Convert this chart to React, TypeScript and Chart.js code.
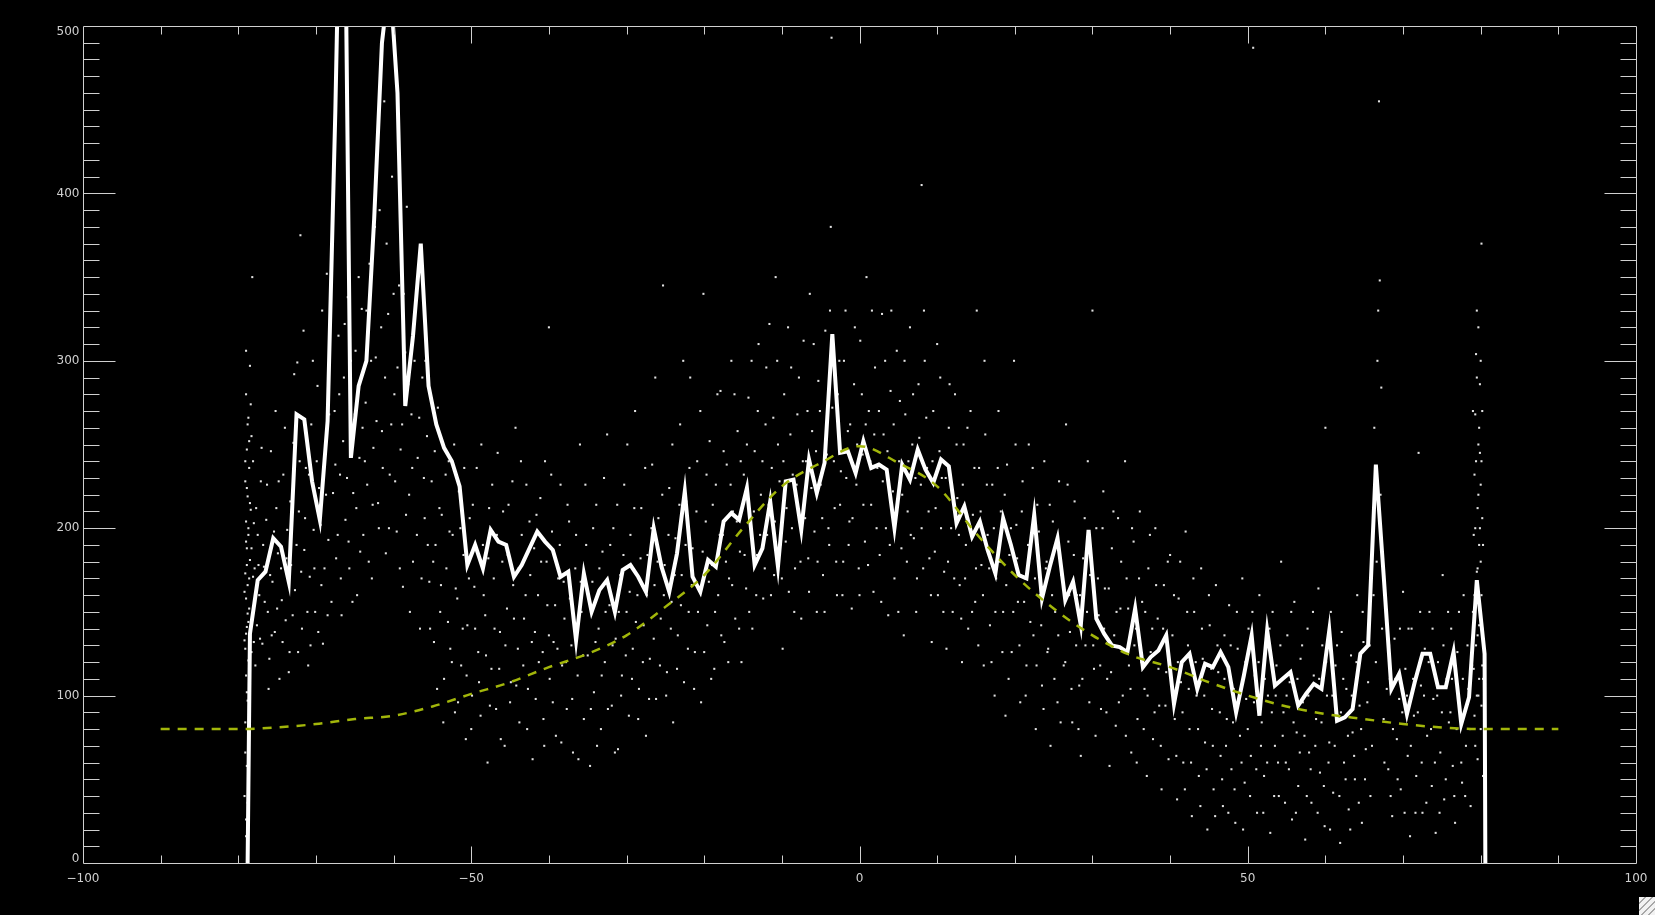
import React, { useEffect, useRef } from "react";
import { Chart, registerables } from "chart.js";

Chart.register(...registerables);

// Binned profile: one value per 1-degree bin, centres from -78.5 upward.
const FIRST_BIN_CENTRE = -78.5;
const BIN_WIDTH = 1;
const binCounts = [
  137, 169, 174, 194, 189, 168, 268, 265, 228, 205,
  264, 450, 680, 242, 285, 300, 385, 490, 530, 460,
  273, 315, 370, 285, 262, 248, 240, 225, 178, 190,
  176, 199, 192, 190, 171, 178, 188, 198, 192, 187,
  171, 174, 133, 173, 150, 163, 169, 150, 175, 178,
  171, 162, 200, 177, 162, 185, 222, 171, 162, 181,
  177, 204, 209, 205, 224, 178, 188, 216, 177, 228,
  229, 199, 241, 221, 239, 316, 245, 246, 233, 252,
  236, 238, 235, 200, 238, 229, 247, 235, 227, 241,
  237, 203, 213, 195, 204, 187, 173, 206, 190, 172,
  170, 208, 158, 177, 194, 157, 168, 142, 199, 146,
  137, 130, 129, 126, 152, 117, 123, 127, 136, 95,
  120, 125, 104, 119, 117, 126, 117, 90, 112, 136,
  88, 139, 106, 110, 114, 94, 101, 107, 104, 139,
  85, 87, 92, 125, 130, 238, 172, 104, 113, 89,
  108, 125, 125, 105, 105, 126, 83, 99, 169, 125,
];
// The profile drops to zero just outside the first and last bins.
const profileLeftEdge = -78.8;
const profileRightEdge = 80.6;

// Smooth model curve (dashed).
const modelX = [
  -90, -85, -80, -75, -70, -65, -60, -55, -50, -45, -40, -35, -30, -25, -20, -15, -10, -5, 0,
  5, 10, 15, 20, 25, 30, 35, 40, 45, 50, 55, 60, 65, 70, 75, 80, 85, 90,
];
const modelY = [
  80, 80, 80, 81, 83, 86, 88, 93.5, 101, 108, 117, 125, 136, 153, 172, 200, 225, 239, 249,
  239, 225, 197, 172, 152, 136, 124, 117, 108, 100, 93.5, 89, 86, 83, 81, 80, 80, 80,
];

// Individual samples (x y), first set.
const samplePairsA = `
-79.2 40, -79.0 26, -78.9 58, -79.1 84, -78.8 97, -79.0 112, -78.7 121, -79.2 133, -78.9 141, -78.6 152,
-79.0 158, -78.8 166, -79.1 173, -78.5 181, -78.9 188, -78.7 196, -79.0 204, -78.4 211, -78.8 219, -79.1 228,
-78.6 236, -78.9 247, -78.3 255, -78.7 266, -79.0 280, -78.5 297, -78.2 145, -78.1 171, -78.3 126, -78.0 203,
-78.2 350, -78.6 108,
-77.8 118, -77.6 142, -77.5 196, -77.3 160, -77.1 228, -76.9 131, -76.7 177, -76.4 205, -76.2 150, -76.0 122,
-75.8 246, -75.6 168, -75.3 138, -75.1 212, -74.9 185, -74.7 110, -74.4 157, -74.2 232, -73.9 145, -73.7 199,
-73.4 126, -73.2 178, -72.9 251, -72.7 163, -72.4 299, -72.2 210, -72.0 375, -71.8 140, -71.5 187, -71.3 236,
-71.0 118, -70.8 171, -70.6 262, -70.3 199, -70.1 150, -69.8 285, -69.6 224, -69.3 166, -69.1 131, -68.8 246,
-68.6 352, -68.4 193, -68.2 310, -68.0 156, -67.8 221,
-67.6 270, -67.4 182, -67.1 315, -66.9 232, -66.7 148, -66.4 290, -66.2 205, -65.9 338, -65.7 176, -65.4 258,
-65.2 221, -64.9 306, -64.7 160, -64.4 242, -64.1 331, -63.9 196, -63.6 275, -63.4 226, -63.1 358, -62.8 170,
-62.6 248, -62.3 302, -62.0 215, -61.8 390, -61.5 258, -61.2 455, -61.0 185, -60.7 328, -60.5 232, -60.2 410,
-59.9 280, -59.6 198, -59.3 345, -59.1 247, -58.8 165, -58.5 305, -58.3 392, -58.0 220, -57.7 268, -57.5 180,
-57.2 335, -56.9 242, -56.6 140, -56.3 290, -56.0 206, -55.7 255, -55.4 168,
-55.1 228, -54.8 132, -54.6 190, -54.3 272, -54.0 150, -53.8 208, -53.5 110, -53.2 176, -52.9 240, -52.7 128,
-52.4 196, -52.1 90, -51.8 158, -51.6 222, -51.3 118, -51.0 184, -50.7 74, -50.5 142, -50.2 206, -49.9 100,
-49.6 165, -49.3 236, -49.1 126, -48.8 88, -48.5 190, -48.2 148, -47.9 60, -47.7 212, -47.4 116, -47.1 170,
-46.8 92, -46.6 245, -46.3 138, -46.0 180, -45.7 70, -45.4 152, -45.2 214, -44.9 108, -44.6 166, -44.3 260,
-44.0 128, -43.8 84, -43.5 196, -43.2 146, -42.9 226, -42.7 104, -42.4 172, -42.1 62, -41.8 138, -41.6 208,
-41.3 120, -41.0 180, -40.7 86, -40.5 240, -40.2 154, -40.0 320, -39.9 110, -39.6 198, -39.4 132, -39.1 76,
-38.8 170, -38.5 226, -38.3 118, -38.0 146, -37.7 92, -37.4 204, -37.1 130, -36.9 66, -36.6 176, -36.3 112,
-36.0 250, -35.8 150, -35.5 86, -35.2 190,
-35.0 124, -34.7 58, -34.4 168, -34.2 102, -33.9 214, -33.6 140, -33.3 80, -33.1 186, -32.8 120, -32.5 256,
-32.2 154, -31.9 94, -31.7 200, -31.4 134, -31.1 68, -30.8 172, -30.6 112, -30.3 226, -30.0 150, -29.7 88,
-29.5 196, -29.2 128, -28.9 270, -28.6 160, -28.4 104, -28.1 212, -27.8 142, -27.5 76, -27.3 184, -27.0 122,
-26.7 238, -26.4 166, -26.2 98, -25.9 206, -25.6 146, -25.3 345, -25.1 178, -24.8 114, -24.5 224, -24.2 156,
-24.0 84, -23.7 194, -23.4 136, -23.1 262, -22.9 172, -22.6 108, -22.3 216, -22.0 150, -21.8 290, -21.5 188,
-21.2 126, -20.9 240, -20.7 164, -20.4 96, -20.1 340, -19.8 204, -19.6 142, -19.3 252, -19.0 178, -18.7 116,
-18.5 226, -18.2 160, -17.9 282, -17.6 196, -17.4 132, -17.1 238, -16.8 170, -16.5 300, -16.3 210, -16.0 146,
-15.7 258, -15.4 186, -15.2 120,
-14.9 232, -14.6 164, -14.3 278, -14.1 204, -13.8 140, -13.5 246, -13.2 184, -13.0 310, -12.7 220, -12.4 158,
-12.1 262, -11.9 196, -11.6 322, -11.3 236, -11.0 172, -10.8 350, -10.5 250, -10.2 190, -9.9 128, -9.7 280,
-9.4 212, -9.1 162, -8.8 296, -8.6 232, -8.3 176, -8.0 268, -7.7 204, -7.5 146, -7.2 312, -6.9 240,
-6.6 182, -6.4 340, -6.1 258, -5.8 198, -5.5 150, -5.3 288, -5.0 226, -4.7 172, -4.4 318, -4.2 244,
-3.9 190, -3.7 380, -3.6 493, -3.5 272, -3.2 212, -2.9 160, -2.6 300, -2.4 234, -2.1 180, -1.8 330,
-1.5 258, -1.3 204, -1.0 152, -0.7 286, -0.4 226, -0.1 176, 0.1 312, 0.4 244, 0.7 192, 0.9 350,
1.2 270, 1.5 214, 1.8 162, 2.0 296, 2.3 236, 2.6 184, 2.9 328, 3.1 256, 3.4 200, 3.7 148,
4.0 282, 4.3 222, 4.5 170, 4.8 306, 5.1 240, 5.4 188, 5.7 136, 5.9 268, 6.2 210, 6.5 320,
6.8 250, 7.0 194, 7.3 150, 7.6 286, 7.9 226, 8.0 405, 8.2 176, 8.4 300, 8.7 236, 9.0 182,
9.3 132, 9.5 270, 9.8 212, 10.1 160, 10.4 290, 10.6 230, 10.9 174, 11.2 128, 11.5 260, 11.8 200,
12.0 150, 12.3 280, 12.6 218, 12.9 166, 13.2 120, 13.4 250, 13.7 190, 14.0 140, 14.3 270, 14.6 208,
14.9 156,
15.1 330, 15.4 236, 15.7 178, 16.0 118, 16.2 256, 16.5 196, 16.8 142, 17.1 226, 17.4 100, 17.6 170,
17.9 270, 18.2 210, 18.5 150, 18.8 88, 19.0 238, 19.3 184, 19.6 126, 19.9 300, 20.2 202, 20.4 156,
20.7 96, 21.0 228, 21.3 170, 21.5 118, 21.8 250, 22.1 192, 22.4 136, 22.7 80, 22.9 214, 23.2 160,
23.5 106, 23.8 240, 24.1 180, 24.3 128, 24.6 70, 24.9 204, 25.2 150, 25.5 96, 25.7 228, 26.0 172,
26.3 118, 26.6 262, 26.9 192, 27.1 138, 27.4 84, 27.7 216, 28.0 160, 28.3 106, 28.5 64, 28.8 182,
29.1 130, 29.4 240, 29.7 172, 30.0 330, 30.2 116, 30.5 200, 30.8 148, 31.1 92, 31.4 222, 31.6 164,
31.9 110, 32.2 58, 32.5 188, 32.8 136, 33.0 82, 33.3 206, 33.6 152, 33.9 100, 34.2 240, 34.4 170,
34.7 118, 35.0 66, 35.3 192, 35.6 140, 35.8 86, 36.1 210, 36.4 156, 36.7 104, 37.0 52, 37.2 176,
37.5 126, 37.8 74, 38.1 200, 38.4 146, 38.6 94, 38.9 44, 39.2 166, 39.5 114, 39.8 62,
40.0 184, 40.3 136, 40.6 86, 40.9 38, 41.1 158, 41.4 108, 41.7 60, 42.0 198, 42.3 130, 42.5 80,
42.8 28, 43.1 150, 43.4 100, 43.7 52, 44.0 176, 44.2 122, 44.5 72, 44.8 20, 45.1 142, 45.4 92,
45.6 44, 45.9 166, 46.2 114, 46.5 64, 46.8 34, 47.0 136, 47.3 86, 47.6 154, 47.9 56, 48.2 104,
48.4 24, 48.7 128, 49.0 76, 49.3 170, 49.6 48, 49.8 98, 50.1 140, 50.4 64, 50.7 487, 50.9 112,
51.2 30, 51.5 160, 51.8 84, 52.1 52, 52.3 130, 52.6 100, 52.9 18, 53.2 150, 53.5 70, 53.7 118,
54.0 40, 54.3 180, 54.6 90, 54.9 60, 55.1 136, 55.4 108, 55.7 26, 56.0 156, 56.3 78, 56.5 46,
56.8 122, 57.1 96, 57.4 14, 57.7 140, 57.9 66, 58.2 36, 58.5 112, 58.8 86, 59.1 164, 59.3 54,
59.6 130, 59.9 22, 60.0 260, 60.2 100, 60.5 72, 60.7 150, 61.0 42, 61.3 118, 61.6 88, 61.9 12,
62.1 138, 62.4 60, 62.7 104, 63.0 32, 63.3 124, 63.5 78, 63.8 50, 64.1 160, 64.4 94, 64.7 24,
64.9 132, 65.2 68, 65.5 108, 65.8 40, 66.1 196, 66.3 260, 66.5 120, 66.7 300, 66.9 455, 67.0 348,
67.2 284, 67.5 86, 67.8 150, 68.1 56, 68.3 110, 68.6 28, 68.9 134, 69.2 74, 69.5 98, 69.7 44,
70.0 162, 70.3 116, 70.6 64, 70.9 16, 71.1 140, 71.4 88, 71.7 52, 72.0 245, 72.3 106, 72.5 30,
72.8 128, 73.1 76, 73.4 150, 73.7 46, 73.9 98, 74.2 18, 74.5 120, 74.8 66, 75.1 172, 75.3 38,
75.6 110, 75.9 84, 76.2 140, 76.4 58, 76.7 24, 77.0 126, 77.3 92, 77.6 48, 77.8 160, 78.1 70,
78.4 104, 78.7 34,
78.9 118, 79.0 150, 79.1 196, 79.2 232, 79.2 88, 79.3 268, 79.4 304, 79.4 130, 79.5 174, 79.5 330,
79.6 212, 79.6 62, 79.7 250, 79.7 100, 79.8 190, 79.8 142, 79.9 286, 80.0 226, 80.0 80, 80.1 160,
80.1 370, 80.2 206, 80.2 118, 80.3 52, 79.9 245
`;

// Individual samples (x y), second set.
const samplePairsB = `
-79.1 66, -78.9 102, -79.0 137, -78.8 149, -79.2 162, -78.6 170, -78.9 178, -79.0 192, -78.7 200, -78.5 215,
-78.9 224, -79.1 240, -78.6 252, -78.8 262, -78.4 274, -79.0 306, -78.3 188, -78.1 240, -78.0 132, -77.9 176,
-79.0 16, -78.8 36, -79.1 128, -78.7 144,
-77.7 212, -77.4 178, -77.2 134, -77.0 248, -76.8 190, -76.6 156, -76.3 226, -76.1 104, -75.9 172, -75.7 136,
-75.4 198, -75.2 270, -75.0 152, -74.8 228, -74.5 176, -74.3 132, -74.0 260, -73.8 182, -73.5 114, -73.3 216,
-73.0 148, -72.8 292, -72.5 190, -72.3 126, -72.1 240, -71.9 174, -71.6 318, -71.4 206, -71.1 150, -70.9 232,
-70.7 130, -70.4 300, -70.2 176, -69.9 240, -69.7 138, -69.4 202, -69.2 330, -68.9 176, -68.7 220, -68.5 148,
-68.3 268,
-67.5 238, -67.2 196, -67.0 280, -66.8 170, -66.5 252, -66.3 322, -66.0 230, -65.8 192, -65.5 300, -65.3 156,
-65.0 268, -64.8 212, -64.5 350, -64.3 186, -64.0 260, -63.7 240, -63.5 330, -63.2 180, -62.9 300, -62.7 214,
-62.4 380, -62.2 264, -61.9 200, -61.6 320, -61.4 236, -61.1 290, -60.9 370, -60.6 200, -60.3 262, -60.0 340,
-59.8 228, -59.5 296, -59.2 176, -58.9 262, -58.7 340, -58.4 208, -58.1 286, -57.9 150, -57.6 236, -57.3 300,
-57.0 196, -56.7 266, -56.4 170, -56.1 230, -55.9 300, -55.6 190, -55.3 140,
-54.9 180, -54.7 246, -54.4 104, -54.1 212, -53.9 166, -53.6 84, -53.3 232, -53.0 144, -52.8 198, -52.5 120,
-52.2 250, -52.0 164, -51.7 96, -51.4 200, -51.1 140, -50.9 236, -50.6 112, -50.3 170, -50.0 80, -49.8 214,
-49.5 140, -49.2 186, -49.0 108, -48.7 250, -48.4 160, -48.1 124, -47.8 182, -47.6 94, -47.3 226, -47.0 140,
-46.7 196, -46.4 116, -46.2 74, -45.9 210, -45.6 130, -45.3 184, -45.0 96, -44.7 228, -44.5 146, -44.2 106,
-43.9 176, -43.6 240, -43.3 118, -43.0 160, -42.8 80, -42.5 204, -42.2 132, -41.9 188, -41.7 98, -41.4 160,
-41.1 218, -40.8 126, -40.6 70, -40.3 180, -40.0 136, -39.7 232, -39.5 96, -39.2 154, -38.9 128, -38.6 190,
-38.4 72, -38.1 168, -37.8 120, -37.6 214, -37.3 158, -37.0 98, -36.7 140, -36.5 196, -36.2 62, -35.9 168,
-35.6 124, -35.3 226,
-34.9 160, -34.6 92, -34.3 200, -34.0 132, -33.8 70, -33.5 176, -33.2 112, -32.9 230, -32.7 150, -32.4 92,
-32.1 190, -31.8 130, -31.5 66, -31.2 214, -31.0 150, -30.7 100, -30.4 184, -30.1 124, -29.9 250, -29.6 162,
-29.3 110, -29.0 212, -28.8 144, -28.5 86, -28.2 182, -27.9 120, -27.6 236, -27.4 160, -27.1 98, -26.8 200,
-26.5 134, -26.3 290, -26.0 180, -25.7 118, -25.4 220, -25.2 160, -24.9 100, -24.6 196, -24.3 140, -24.1 250,
-23.8 172, -23.5 116, -23.2 214, -23.0 154, -22.7 300, -22.4 190, -22.1 128, -21.9 236, -21.6 166, -21.3 104,
-21.0 210, -20.8 150, -20.5 270, -20.2 186, -20.0 126, -19.7 232, -19.4 168, -19.1 110, -18.9 214, -18.6 150,
-18.3 280, -18.0 196, -17.8 136, -17.5 246, -17.2 180, -16.9 120, -16.6 226, -16.4 166, -16.1 280, -15.8 204,
-15.5 140, -15.3 240,
-14.8 184, -14.5 250, -14.2 150, -13.9 300, -13.6 210, -13.3 160, -13.1 270, -12.8 196, -12.5 240, -12.2 176,
-12.0 296, -11.7 214, -11.4 160, -11.1 266, -10.9 204, -10.6 300, -10.3 228, -10.0 170, -9.8 240, -9.5 192,
-9.2 320, -8.9 256, -8.7 200, -8.4 150, -8.1 226, -7.8 290, -7.6 180, -7.3 240, -7.0 206, -6.7 270,
-6.5 162, -6.2 224, -5.9 310, -5.6 246, -5.4 180, -5.1 270, -4.8 206, -4.5 150, -4.3 262, -4.0 200,
-3.8 330, -3.3 240, -3.0 180, -2.8 280, -2.5 214, -2.2 160, -2.0 300, -1.7 230, -1.4 190, -1.2 262,
-0.9 206, -0.6 320, -0.3 250, 0.0 160, 0.3 280, 0.5 214, 0.8 262, 1.1 178, 1.4 240, 1.6 330,
1.9 256, 2.2 200, 2.5 270, 2.8 156, 3.0 228, 3.3 300, 3.6 246, 3.9 190, 4.1 330, 4.4 262,
4.7 204, 5.0 150, 5.2 276, 5.5 220, 5.8 300, 6.1 180, 6.3 240, 6.6 196, 6.9 280, 7.2 230,
7.4 170, 7.7 254, 8.0 200, 8.3 330, 8.6 266, 8.9 210, 9.2 160, 9.4 240, 9.7 186, 10.0 310,
10.3 246, 10.5 200, 10.8 150, 11.1 230, 11.4 180, 11.6 286, 11.9 222, 12.2 170, 12.5 250, 12.8 196,
13.1 146, 13.3 226, 13.6 170, 13.9 260, 14.2 200, 14.5 150, 14.8 236,
15.0 176, 15.3 130, 15.6 210, 15.9 160, 16.1 300, 16.4 226, 16.7 176, 17.0 120, 17.3 200, 17.5 150,
17.8 236, 18.1 180, 18.4 126, 18.7 220, 18.9 166, 19.2 110, 19.5 200, 19.8 150, 20.1 250, 20.3 182,
20.6 130, 20.9 210, 21.2 156, 21.4 100, 21.7 190, 22.0 144, 22.3 236, 22.6 170, 22.8 118, 23.1 198,
23.4 142, 23.7 92, 24.0 176, 24.2 126, 24.5 214, 24.8 160, 25.1 110, 25.4 190, 25.6 136, 25.9 84,
26.2 170, 26.5 120, 26.8 226, 27.0 160, 27.3 104, 27.6 184, 27.9 130, 28.2 80, 28.4 160, 28.7 110,
29.0 206, 29.3 150, 29.6 96, 29.9 180, 30.1 130, 30.4 76, 30.7 170, 31.0 118, 31.3 200, 31.5 140,
31.8 90, 32.1 164, 32.4 114, 32.7 210, 33.1 150, 33.4 96, 33.7 180, 34.0 126, 34.3 76, 34.6 152,
34.9 104, 35.1 200, 35.4 130, 35.7 60, 36.0 170, 36.3 120, 36.6 80, 36.8 150, 37.1 100, 37.4 196,
37.7 140, 38.0 90, 38.2 166, 38.5 116, 38.8 70, 39.1 140, 39.4 94, 39.7 180,
40.2 110, 40.5 160, 40.8 64, 41.0 120, 41.3 180, 41.6 90, 41.9 44, 42.2 150, 42.4 104, 42.7 60,
43.0 170, 43.3 120, 43.6 80, 43.9 34, 44.1 140, 44.4 100, 44.7 56, 45.0 160, 45.3 116, 45.5 70,
45.8 28, 46.1 130, 46.4 90, 46.7 50, 47.0 110, 47.2 70, 47.5 30, 47.8 130, 48.1 84, 48.3 44,
48.6 150, 48.9 100, 49.2 60, 49.4 20, 49.7 120, 50.0 80, 50.3 40, 50.6 150, 50.8 96, 51.1 56,
51.4 120, 51.7 70, 52.0 30, 52.2 110, 52.5 60, 52.8 140, 53.1 90, 53.4 40, 53.6 100, 53.9 60,
54.2 130, 54.5 76, 54.8 36, 55.0 100, 55.3 56, 55.6 150, 55.9 84, 56.2 30, 56.4 110, 56.7 66,
57.0 130, 57.3 76, 57.6 40, 57.8 100, 58.1 56, 58.4 150, 58.7 70, 59.0 30, 59.2 110, 59.5 84,
59.8 46, 60.1 120, 60.4 60, 60.6 20, 60.9 100, 61.2 70, 61.5 130, 61.8 40, 62.0 90, 62.3 110,
62.6 50, 62.9 76, 63.2 20, 63.4 100, 63.7 64, 64.0 120, 64.3 36, 64.6 80, 64.8 150, 65.1 50,
65.4 96, 65.7 130, 66.0 70, 66.2 160, 66.4 230, 66.6 180, 66.8 330, 67.1 220, 67.3 140, 67.6 60,
67.9 104, 68.2 130, 68.4 40, 68.7 80, 69.0 110, 69.3 50, 69.6 140, 69.9 90, 70.2 30, 70.5 100,
70.7 140, 71.0 70, 71.3 110, 71.6 30, 71.9 90, 72.2 150, 72.4 60, 72.7 100, 73.0 36, 73.3 120,
73.6 80, 73.8 140, 74.1 60, 74.4 100, 74.7 30, 75.0 90, 75.2 130, 75.5 50, 75.8 150, 76.1 90,
76.3 110, 76.6 40, 76.9 80, 77.2 150, 77.5 60, 77.7 110, 78.0 40, 78.3 130, 78.6 80,
79.0 270, 79.1 116, 79.2 160, 79.3 200, 79.3 70, 79.4 240, 79.5 100, 79.5 290, 79.6 176, 79.6 136,
79.7 220, 79.7 320, 79.8 110, 79.8 260, 79.9 200, 79.9 150, 80.0 180, 80.0 300, 80.1 94, 80.1 240,
80.2 140, 80.2 270, 80.3 190, 80.3 110
`;

// Axis range and tick layout.
const X_MIN = -100;
const X_MAX = 100;
const Y_MIN = 0;
const Y_MAX = 500;
const xLabelValues = [-100, -50, 0, 50, 100];
const xLabelTexts = ["\u2212100", "\u221250", "0", "50", "100"];
const yLabelValues = [0, 100, 200, 300, 400, 500];
const yLabelTexts = ["0", "100", "200", "300", "400", "500"];
const X_MINOR_STEP = 10;
const X_MAJOR_STEP = 50;
const Y_MINOR_STEP = 10;
const Y_MAJOR_STEP = 100;

const AXIS_COLOUR = "#d0d0d0";
const PROFILE_COLOUR = "#ffffff";
const MODEL_COLOUR = "#a2b60a";
const SAMPLE_COLOUR = "#e2e2e2";

const parsePairs = (text: string) =>
  text
    .split(",")
    .map((s) => s.trim())
    .filter((s) => s.length > 0)
    .map((s) => {
      const [x, y] = s.split(/\s+/).map(Number);
      return { x, y };
    });

const profilePoints = [
  { x: profileLeftEdge, y: 0 },
  ...binCounts.map((v, i) => ({ x: FIRST_BIN_CENTRE + i * BIN_WIDTH, y: v })),
  { x: profileRightEdge, y: 0 },
];
const modelPoints = modelX.map((x, i) => ({ x, y: modelY[i] }));
const samplePoints = [...parsePairs(samplePairsA), ...parsePairs(samplePairsB)];

// Boxed axes with inward ticks on all four sides, labels left and bottom.
const boxAxes = {
  id: "boxAxes",
  afterDatasetsDraw(chart: any) {
    const { ctx, chartArea: a } = chart;
    const xs = chart.scales.x;
    const ys = chart.scales.y;
    const L = Math.round(a.left) + 0.5;
    const R = Math.round(a.right) + 0.5;
    const T = Math.round(a.top) + 0.5;
    const B = Math.round(a.bottom) + 0.5;
    ctx.save();
    ctx.strokeStyle = AXIS_COLOUR;
    ctx.lineWidth = 1;
    ctx.beginPath();
    ctx.rect(L, T, R - L, B - T);
    ctx.stroke();

    ctx.beginPath();
    for (let v = X_MIN + X_MINOR_STEP; v < X_MAX; v += X_MINOR_STEP) {
      const px = Math.round(xs.getPixelForValue(v)) + 0.5;
      const len = v % X_MAJOR_STEP === 0 ? 17 : 8;
      ctx.moveTo(px, B);
      ctx.lineTo(px, B - len);
      ctx.moveTo(px, T);
      ctx.lineTo(px, T + len);
    }
    for (let v = Y_MIN + Y_MINOR_STEP; v < Y_MAX; v += Y_MINOR_STEP) {
      const py = Math.round(ys.getPixelForValue(v)) + 0.5;
      const len = v % Y_MAJOR_STEP === 0 ? 32 : 16;
      ctx.moveTo(L, py);
      ctx.lineTo(L + len, py);
      ctx.moveTo(R, py);
      ctx.lineTo(R - len, py);
    }
    ctx.stroke();

    ctx.fillStyle = AXIS_COLOUR;
    ctx.font = '12px "DejaVu Sans", sans-serif';
    ctx.textAlign = "right";
    ctx.textBaseline = "middle";
    yLabelValues.forEach((v, i) => {
      const py = ys.getPixelForValue(v);
      const cy = Math.min(Math.max(py, T + 5), B - 4.5);
      ctx.fillText(yLabelTexts[i], L - 4, cy);
    });
    ctx.textAlign = "center";
    xLabelValues.forEach((v, i) => {
      const px = xs.getPixelForValue(v);
      ctx.fillText(xLabelTexts[i], px, B + 15);
    });
    ctx.restore();
  },
};

export default function App() {
  const canvasRef = useRef<HTMLCanvasElement | null>(null);

  useEffect(() => {
    document.body.style.background = "#000";
    const canvas = canvasRef.current;
    if (!canvas) return;
    const chart = new Chart(canvas, {
      type: "line",
      data: {
        datasets: [
          {
            type: "line",
            label: "model",
            data: modelPoints,
            borderColor: MODEL_COLOUR,
            borderWidth: 2.5,
            borderDash: [9, 8],
            pointRadius: 0,
            cubicInterpolationMode: "monotone",
            fill: false,
            order: 0,
            clip: 0,
          },
          {
            type: "line",
            label: "profile",
            data: profilePoints,
            borderColor: PROFILE_COLOUR,
            borderWidth: 4,
            borderJoinStyle: "miter",
            pointRadius: 0,
            tension: 0,
            fill: false,
            order: 1,
            clip: 0,
          },
          {
            type: "scatter",
            label: "samples",
            data: samplePoints,
            pointStyle: "rect",
            pointRadius: 1.45,
            pointBackgroundColor: SAMPLE_COLOUR,
            pointBorderColor: SAMPLE_COLOUR,
            pointBorderWidth: 0,
            showLine: false,
            order: 2,
            clip: 0,
          },
        ] as any,
      },
      options: {
        responsive: false,
        animation: false,
        devicePixelRatio: 1,
        events: [],
        layout: { padding: { left: 83, top: 26, right: 19, bottom: 52 } },
        scales: {
          x: { type: "linear", min: X_MIN, max: X_MAX, display: false },
          y: { type: "linear", min: Y_MIN, max: Y_MAX, display: false },
        },
        plugins: {
          legend: { display: false },
          tooltip: { enabled: false },
        },
      } as any,
      plugins: [boxAxes],
    });
    return () => chart.destroy();
  }, []);

  return (
    <div
      style={{
        position: "fixed",
        left: 0,
        top: 0,
        width: 1655,
        height: 915,
        background: "#000",
        overflow: "hidden",
      }}
    >
      <canvas
        ref={canvasRef}
        width={1655}
        height={915}
        style={{ display: "block", width: 1655, height: 915 }}
      />
      <div
        style={{
          position: "absolute",
          left: 1639,
          top: 897,
          width: 16,
          height: 18,
          background:
            "repeating-linear-gradient(135deg, #f2f2f2 0px, #f2f2f2 4px, #a8a8a8 4px, #a8a8a8 5px)",
        }}
      />
    </div>
  );
}
